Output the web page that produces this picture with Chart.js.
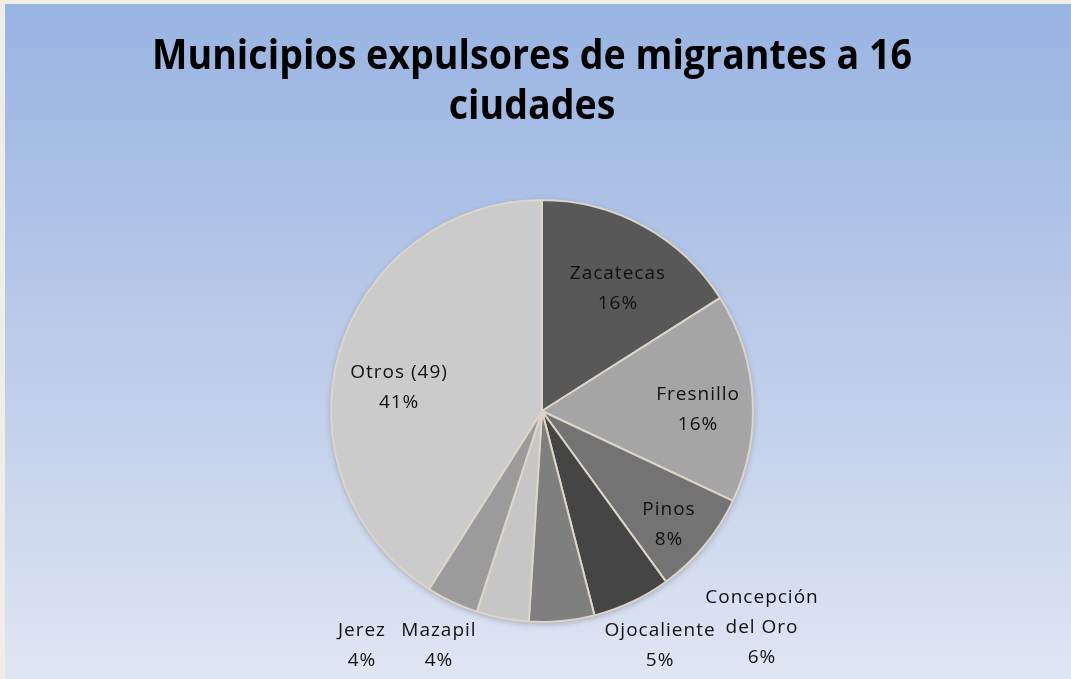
<!DOCTYPE html>
<html>
<head>
<meta charset="utf-8">
<script src="https://cdn.jsdelivr.net/npm/chart.js@4/dist/chart.umd.min.js"></script>
<style>
    html, body { margin: 0; padding: 0; background: #efeee6; }
    canvas { display: block; }
</style>
</head>
<body>
<canvas id="pieChart" width="1071" height="679"></canvas>
<script>
const titleLines = ['Municipios expulsores de migrantes a 16', 'ciudades'];
const municipios = ['Zacatecas', 'Fresnillo', 'Pinos', 'Concepción del Oro', 'Ojocaliente', 'Mazapil', 'Jerez', 'Otros (49)'];
const porcentajes = [16, 16, 8, 6, 5, 4, 4, 41];
const grises = ['#585858', '#a5a5a5', '#737373', '#454545', '#7f7f7f', '#c6c6c6', '#9b9b9b', '#cbcbcb'];

// label centres, measured in pie radii from the pie centre
const labelSpots = [
    [0.355, -0.578], [0.735, -0.009], [0.597, 0.536], [1.038, 1.028],
    [0.555, 1.114], [-0.493, 1.114], [-0.858, 1.114], [-0.682, -0.109]
];
const wrapped = { 'Concepción del Oro': ['Concepción', 'del Oro'] };

// background panel + gradient
const panelBackground = {
    id: 'panelBackground',
    beforeDraw(chart) {
        const ctx = chart.ctx;
        const w = chart.width, h = chart.height;
        ctx.save();
        ctx.fillStyle = '#efeee6';
        ctx.fillRect(0, 0, w, h);
        const grad = ctx.createLinearGradient(0, 4, 0, h);
        grad.addColorStop(0, '#98b4e2');
        grad.addColorStop(0.55, '#bfcdea');
        grad.addColorStop(1, '#dfe6f3');
        ctx.fillStyle = grad;
        ctx.fillRect(5, 4, w - 5, h - 4);
        ctx.restore();
    }
};

// soft shadow under the pie
const pieShadow = {
    id: 'pieShadow',
    beforeDatasetsDraw(chart) {
        const arc = chart.getDatasetMeta(0).data[0];
        const ctx = chart.ctx;
        ctx.save();
        ctx.shadowColor = 'rgba(0, 0, 0, 0.25)';
        ctx.shadowBlur = 6;
        ctx.shadowOffsetY = 2;
        ctx.fillStyle = '#ddd5c8';
        ctx.beginPath();
        ctx.arc(arc.x, arc.y, arc.outerRadius, 0, Math.PI * 2);
        ctx.fill();
        ctx.restore();
    }
};

// title, squeezed to the width of the original
const titleText = {
    id: 'titleText',
    afterDraw(chart) {
        const ctx = chart.ctx;
        ctx.save();
        ctx.font = 'bold 42px "Open Sans", "DejaVu Sans", sans-serif';
        ctx.fillStyle = '#000';
        ctx.textAlign = 'center';
        ctx.textBaseline = 'alphabetic';
        const scaleX = 760 / ctx.measureText(titleLines[0]).width;
        const baselines = [69, 119];
        titleLines.forEach((line, i) => {
            ctx.save();
            ctx.translate(532, baselines[i]);
            ctx.scale(scaleX, 1);
            ctx.fillText(line, 0, 0);
            ctx.restore();
        });
        ctx.restore();
    }
};

// name + percentage labels
const sliceLabels = {
    id: 'sliceLabels',
    afterDatasetsDraw(chart) {
        const ctx = chart.ctx;
        const arcs = chart.getDatasetMeta(0).data;
        const total = porcentajes.reduce((a, b) => a + b, 0);
        const cx = arcs[0].x, cy = arcs[0].y, r = arcs[0].outerRadius;
        ctx.save();
        ctx.font = '19px "Open Sans", "DejaVu Sans", sans-serif';
        ctx.letterSpacing = '1px';
        ctx.fillStyle = '#111';
        ctx.textAlign = 'center';
        ctx.textBaseline = 'middle';
        municipios.forEach((name, i) => {
            const lines = (wrapped[name] || [name]).concat([Math.round(porcentajes[i] / total * 100) + '%']);
            const x = cx + labelSpots[i][0] * r;
            const y = cy + labelSpots[i][1] * r;
            const lh = 30;
            const top = y - (lines.length - 1) * lh / 2;
            lines.forEach((t, k) => ctx.fillText(t, x + 1, top + k * lh));
        });
        ctx.restore();
    }
};

new Chart(document.getElementById('pieChart'), {
    type: 'pie',
    data: {
        labels: municipios,
        datasets: [{
            data: porcentajes,
            backgroundColor: grises,
            borderColor: '#ddd5c8',
            borderWidth: 2
        }]
    },
    options: {
        responsive: false,
        animation: false,
        layout: { padding: { left: 330, right: 317, top: 199, bottom: 56 } },
        plugins: {
            legend: { display: false },
            title: { display: false },
            tooltip: { enabled: false }
        }
    },
    plugins: [panelBackground, pieShadow, titleText, sliceLabels]
});
</script>
</body>
</html>
